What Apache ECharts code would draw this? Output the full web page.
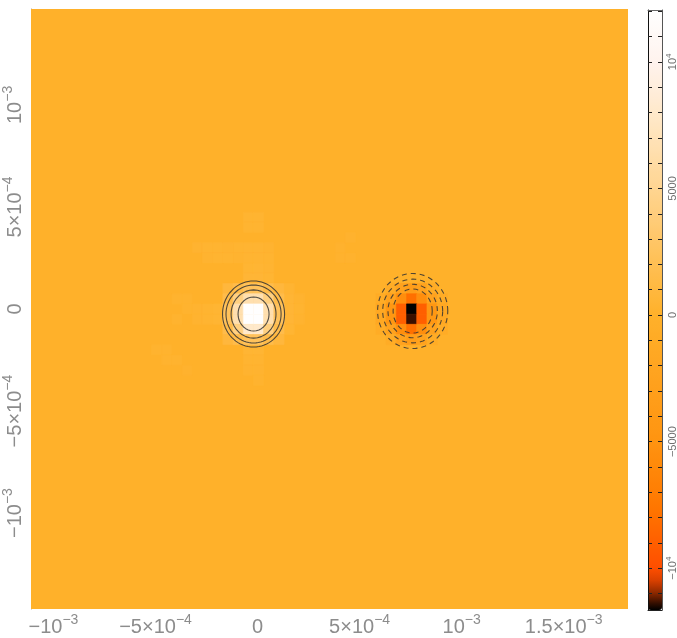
<!DOCTYPE html>
<html>
<head>
<meta charset="utf-8">
<script src="https://cdn.jsdelivr.net/npm/echarts@6/dist/echarts.min.js"></script>
<style>
  html, body { margin: 0; padding: 0; background: #ffffff; }
  #chart { width: 677px; height: 638px; }
</style>
</head>
<body>
<div id="chart"></div>
<script>
// ---- Data -----------------------------------------------------------------
// Coordinates of the field cells below are given in units of 1e-3.
const unit = 1e-3;
const cellSize = 0.05;          // lattice spacing of the sampled field (1e-3 units)

// Plotted window (raw units)
const xRange = [-1.11e-3, 1.815e-3];
const yRange = [-1.47e-3, 1.47e-3];

// Field value away from the two sources
const fieldBackground = 0;

// Positive source: column centres, row centres, values
const posCols = [-0.145, -0.095, -0.045, 0.005, 0.055, 0.105];
const posRows = [0.10, 0.05, 0, -0.05, -0.10, -0.15];
const posValues = [
  [900, 1600, 2400, 2400, 1600, 900],
  [1600, 4200, 6500, 6500, 4200, 1600],
  [2400, 6500, 12000, 12000, 6500, 2400],
  [2400, 6500, 12000, 12000, 6500, 2400],
  [1600, 4200, 8000, 8000, 4200, 1600],
  [900, 1600, 2400, 2400, 1600, 900]
];

// Negative source: column centres, row centres, values
const negCols = [0.605, 0.655, 0.705, 0.755, 0.805, 0.855, 0.905];
const negRows = [0.10, 0.05, 0, -0.05, -0.10, -0.15];
const negValues = [
  [0, -800, -2500, -3500, -2500, -800, 0],
  [-800, -2500, -5500, -8000, -5500, -2500, -800],
  [-1500, -4500, -9000, -11640, -9000, -4500, -1500],
  [-1500, -4500, -9000, -11350, -9000, -4500, -1500],
  [-800, -2500, -5500, -8000, -5500, -2500, -800],
  [0, -800, -2500, -3500, -2500, -800, 0]
];

// Faint lighter patches around the positive source: [x, y, value]
const faintCells = [
  [-0.045, 0.45, 350], [0.005, 0.45, 350], [-0.045, 0.40, 350], [0.005, 0.40, 350],
  [-0.295, 0.30, 300], [-0.245, 0.30, 350], [-0.195, 0.30, 350], [-0.145, 0.30, 300],
  [-0.095, 0.30, 350], [-0.045, 0.30, 400], [0.005, 0.30, 400], [0.055, 0.30, 300],
  [-0.245, 0.25, 300], [-0.195, 0.25, 350], [-0.145, 0.25, 350], [-0.095, 0.25, 300],
  [-0.045, 0.25, 400], [0.005, 0.25, 400], [0.055, 0.25, 350],
  [-0.045, 0.20, 450], [0.005, 0.20, 500], [0.055, 0.20, 400],
  [-0.045, 0.15, 600], [0.005, 0.15, 600], [0.055, 0.15, 450],
  [-0.395, 0.05, 250], [-0.345, 0.05, 250], [-0.345, 0, 250], [-0.295, 0, 300],
  [-0.245, 0, 350], [-0.195, 0, 450], [-0.395, -0.05, 250], [-0.295, -0.05, 300],
  [-0.245, -0.05, 350], [-0.195, -0.05, 450],
  [0.155, 0.10, 400], [0.155, 0.05, 550], [0.155, 0, 600], [0.155, -0.05, 600],
  [0.155, -0.10, 450], [0.205, 0.05, 300], [0.205, 0, 350], [0.205, -0.05, 300],
  [-0.495, -0.20, 250], [-0.445, -0.20, 250], [-0.445, -0.25, 250], [-0.395, -0.25, 250],
  [-0.345, -0.30, 200],
  [-0.045, -0.20, 500], [0.005, -0.20, 500], [-0.045, -0.25, 350], [0.005, -0.25, 350],
  [-0.045, -0.30, 300], [0.005, -0.30, 300], [0.005, -0.35, 250],
  [0.405, 0.25, 200], [0.455, 0.25, 200], [0.405, 0.30, 200], [0.455, 0.35, 200]
];

// Contour rings: centre and semi-axes (1e-3 units)
const posContourCenter = [-0.0196, -0.0245];
const posContourRadii = [[0.152, 0.162], [0.135, 0.142], [0.110, 0.118], [0.076, 0.083]];
const negContourCenter = [0.760, -0.0098];
const negContourRadii = [[0.172, 0.184], [0.147, 0.156], [0.121, 0.131], [0.096, 0.108]];

// Axis ticks and labels ([base, superscript])
const xTickValues = [-1e-3, -5e-4, 0, 5e-4, 1e-3, 1.5e-3];
const xTickLabels = [['−10', '−3'], ['−5×10', '−4'], ['0', ''], ['5×10', '−4'], ['10', '−3'], ['1.5×10', '−3']];
const yTickValues = [-1e-3, -5e-4, 0, 5e-4, 1e-3];
const yTickLabels = [['−10', '−3'], ['−5×10', '−4'], ['0', ''], ['5×10', '−4'], ['10', '−3']];

// Colour bar
const barRange = [-11650, 12050];
const barTicks = [-11000, -10000, -9000, -8000, -7000, -6000, -5000, -4000, -3000, -2000, -1000,
  0, 1000, 2000, 3000, 4000, 5000, 6000, 7000, 8000, 9000, 10000, 11000, 12000];
const barLabelValues = [-10000, -5000, 0, 5000, 10000];
const barLabels = [['−10', '4'], ['−5000', ''], ['0', ''], ['5000', ''], ['10', '4']];

// Colour function: value -> colour
const colorStops = [
  [-11650, '#000000'], [-11350, '#3a1000'], [-11000, '#8a2800'], [-10500, '#d84000'],
  [-10000, '#ff4e00'], [-7500, '#ff7800'], [-5000, '#ff9410'], [-2500, '#ffa21e'],
  [0, '#ffb12a'], [2500, '#ffc35e'], [5000, '#ffd591'], [7500, '#ffe6c2'],
  [10000, '#fff3ee'], [12050, '#ffffff']
];

// ---- Helpers --------------------------------------------------------------
function hexToRgb(h) {
  return [parseInt(h.slice(1, 3), 16), parseInt(h.slice(3, 5), 16), parseInt(h.slice(5, 7), 16)];
}
function colorAt(v) {
  for (let i = 1; i < colorStops.length; i++) {
    const [v1, c1] = colorStops[i];
    const [v0, c0] = colorStops[i - 1];
    if (v <= v1 || i === colorStops.length - 1) {
      const t = Math.max(0, Math.min(1, (v - v0) / (v1 - v0)));
      const a = hexToRgb(c0), b = hexToRgb(c1);
      const m = a.map((x, k) => Math.round(x + (b[k] - x) * t));
      return 'rgb(' + m.join(',') + ')';
    }
  }
  return colorStops[colorStops.length - 1][1];
}
const nColorSamples = 240;
const inRangeColors = [];
for (let i = 0; i <= nColorSamples; i++) {
  inRangeColors.push(colorAt(barRange[0] + (barRange[1] - barRange[0]) * i / nColorSamples));
}

function blockCells(cols, rows, values) {
  const out = [];
  rows.forEach((y, r) => cols.forEach((x, c) => {
    if (values[r][c] !== fieldBackground) out.push([x * unit, y * unit, values[r][c]]);
  }));
  return out;
}
const cellData = []
  .concat(faintCells.map(d => [d[0] * unit, d[1] * unit, d[2]]))
  .concat(blockCells(posCols, posRows, posValues))
  .concat(blockCells(negCols, negRows, negValues));

function ring(center, radii) {
  const pts = [];
  const n = 72;
  for (let k = 0; k <= n; k++) {
    const a = 2 * Math.PI * k / n;
    pts.push([(center[0] + radii[0] * Math.cos(a)) * unit, (center[1] + radii[1] * Math.sin(a)) * unit]);
  }
  return pts;
}

function richLabel(v, values, labels) {
  let idx = -1;
  values.forEach((t, i) => { if (Math.abs(t - v) <= Math.abs(t) * 1e-6 + 1e-12) idx = i; });
  if (idx < 0) return '';
  const [b, s] = labels[idx];
  return s ? '{b|' + b + '}{s|' + s + '}' : '{b|' + b + '}';
}

const labelFont = 'Liberation Sans, Arial, sans-serif';
const labelColor = '#8c8c8c';
const axisRich = {
  b: { fontSize: 20, lineHeight: 24, verticalAlign: 'bottom', color: labelColor, fontFamily: labelFont },
  s: { fontSize: 14, lineHeight: 11, verticalAlign: 'top', color: labelColor, fontFamily: labelFont }
};
const barRich = {
  b: { fontSize: 11, lineHeight: 13, verticalAlign: 'bottom', color: '#707070', fontFamily: labelFont },
  s: { fontSize: 8, lineHeight: 6, verticalAlign: 'top', color: '#707070', fontFamily: labelFont }
};

// ---- Series ---------------------------------------------------------------
const half = cellSize * unit / 2;
const series = [
  {
    type: 'custom', name: 'background', xAxisIndex: 0, yAxisIndex: 0,
    data: [[0, 0, fieldBackground]], encode: { x: 0, y: 1 }, silent: true,
    renderItem: (params, api) => {
      const c = params.coordSys;
      return { type: 'rect', shape: { x: c.x, y: c.y, width: c.width, height: c.height },
               style: { fill: api.visual('color') } };
    }
  },
  {
    type: 'custom', name: 'field', xAxisIndex: 0, yAxisIndex: 0,
    data: cellData, encode: { x: 0, y: 1 }, silent: true, clip: true,
    renderItem: (params, api) => {
      const x = api.value(0), y = api.value(1);
      const p0 = api.coord([x - half, y + half]);
      const p1 = api.coord([x + half, y - half]);
      const col = api.visual('color');
      return { type: 'rect',
               shape: { x: p0[0], y: p0[1], width: p1[0] - p0[0], height: p1[1] - p0[1] },
               style: { fill: col, stroke: col, lineWidth: 0.6 } };
    }
  }
];
posContourRadii.forEach(r => series.push({
  type: 'line', xAxisIndex: 0, yAxisIndex: 0, data: ring(posContourCenter, r),
  showSymbol: false, silent: true, z: 5,
  lineStyle: { color: '#333333', width: 1.1, opacity: 0.85, type: 'solid' }
}));
negContourRadii.forEach(r => series.push({
  type: 'line', xAxisIndex: 0, yAxisIndex: 0, data: ring(negContourCenter, r),
  showSymbol: false, silent: true, z: 5,
  lineStyle: { color: '#333333', width: 1.1, opacity: 0.85, type: [5, 4] }
}));

const barAxisBase = {
  gridIndex: 1, type: 'value', min: barRange[0], max: barRange[1], z: 10,
  splitLine: { show: false }
};

const option = {
  animation: false,
  backgroundColor: '#ffffff',
  grid: [
    { left: 31, top: 9, width: 597, height: 600, containLabel: false, outerBoundsMode: 'none' },
    { left: 648, top: 10, width: 14, height: 600, containLabel: false, outerBoundsMode: 'none' }
  ],
  xAxis: [
    {
      gridIndex: 0, type: 'value', min: xRange[0], max: xRange[1],
      axisLine: { show: false }, axisTick: { show: false }, splitLine: { show: false },
      axisLabel: {
        customValues: xTickValues, margin: 4,
        formatter: v => richLabel(v, xTickValues, xTickLabels), rich: axisRich
      }
    },
    { gridIndex: 1, type: 'value', min: 0, max: 1, position: 'bottom', z: 10,
      axisLine: { show: true, onZero: false, lineStyle: { color: '#222', width: 1 } },
      axisTick: { show: false }, axisLabel: { show: false }, splitLine: { show: false } },
    { gridIndex: 1, type: 'value', min: 0, max: 1, position: 'top', z: 10,
      axisLine: { show: true, onZero: false, lineStyle: { color: '#666', width: 1 } },
      axisTick: { show: false }, axisLabel: { show: false }, splitLine: { show: false } }
  ],
  yAxis: [
    {
      gridIndex: 0, type: 'value', min: yRange[0], max: yRange[1],
      axisLine: { show: true, onZero: false, lineStyle: { color: '#9c9c9c', width: 1 } },
      axisTick: { show: false }, splitLine: { show: false },
      axisLabel: {
        customValues: yTickValues, rotate: 90, margin: 6,
        formatter: v => richLabel(v, yTickValues, yTickLabels), rich: axisRich
      }
    },
    Object.assign({}, barAxisBase, {
      position: 'right',
      axisLine: { show: true, onZero: false, lineStyle: { color: '#555', width: 1 } },
      axisTick: { show: true, inside: true, length: 4, customValues: barTicks, lineStyle: { color: '#222' } },
      axisLabel: { customValues: barLabelValues, rotate: 90, margin: 3,
        formatter: v => richLabel(v, barLabelValues, barLabels), rich: barRich }
    }),
    Object.assign({}, barAxisBase, {
      position: 'left',
      axisLine: { show: true, onZero: false, lineStyle: { color: '#111', width: 1 } },
      axisTick: { show: true, inside: true, length: 4, customValues: barTicks, lineStyle: { color: '#222' } },
      axisLabel: { show: false }
    })
  ],
  visualMap: {
    type: 'continuous', min: barRange[0], max: barRange[1], dimension: 2,
    seriesIndex: [0, 1], inRange: { color: inRangeColors },
    orient: 'vertical', left: 648, top: 10, itemWidth: 14, itemHeight: 600,
    padding: 0, calculable: false, hoverLink: false, realtime: false, align: 'left',
    text: null
  },
  series: series
};

const chart = echarts.init(document.getElementById('chart'), null, { renderer: 'canvas' });
chart.setOption(option);
</script>
</body>
</html>
